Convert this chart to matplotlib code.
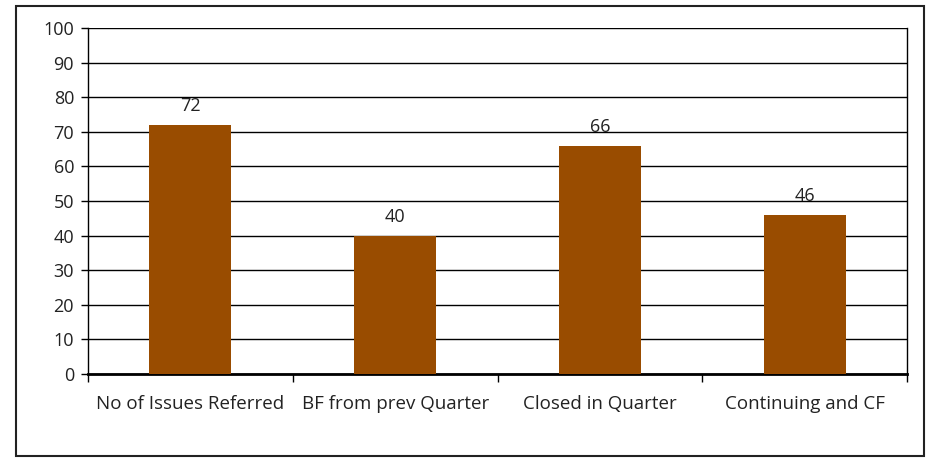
import matplotlib.pyplot as plt
from matplotlib.patches import Rectangle

categories = ["No of Issues Referred", "BF from prev Quarter", "Closed in Quarter", "Continuing and CF"]
values = [72, 40, 66, 46]
y_ticks = [0, 10, 20, 30, 40, 50, 60, 70, 80, 90, 100]

plt.rcParams['font.family'] = ['Open Sans', 'DejaVu Sans']

fig = plt.figure(figsize=(9.3, 4.58), dpi=100)
ax = fig.add_axes([88/930, 1-374/458, (907-88)/930, (374-28)/458])

x = list(range(len(categories)))
ax.bar(x, values, width=0.4, color='#994C00', zorder=3)

for xi, v in zip(x, values):
    ax.annotate(str(v), (xi, v), xytext=(0, 7), textcoords='offset points',
                ha='center', va='bottom', fontsize=13, color='#222222')

ax.set_xlim(-0.5, len(categories) - 0.5)
ax.set_ylim(0, 100)
ax.set_yticks(y_ticks)
ax.set_xticks(x)
ax.set_xticklabels(categories)
ax.set_xticks([i - 0.5 for i in range(len(categories) + 1)], minor=True)
ax.tick_params(axis='x', which='major', length=0, pad=15, labelsize=13.5, labelcolor='#222222')
ax.tick_params(axis='x', which='minor', length=6, width=1, color='black')
ax.tick_params(axis='y', length=5, width=1, labelsize=13, labelcolor='#222222', pad=5)

ax.yaxis.grid(True, color='black', linewidth=1)
ax.set_axisbelow(True)
for side in ['left', 'right', 'top']:
    ax.spines[side].set_linewidth(1)
    ax.spines[side].set_color('black')
ax.spines['top'].set_visible(False)
ax.spines['bottom'].set_linewidth(2)

fig.patches.append(Rectangle((16/930, 2/458), (924-16)/930, (450-0)/458,
                             transform=fig.transFigure, fill=False,
                             edgecolor='#222222', linewidth=1.5))

fig.savefig('out.png', dpi=100)
